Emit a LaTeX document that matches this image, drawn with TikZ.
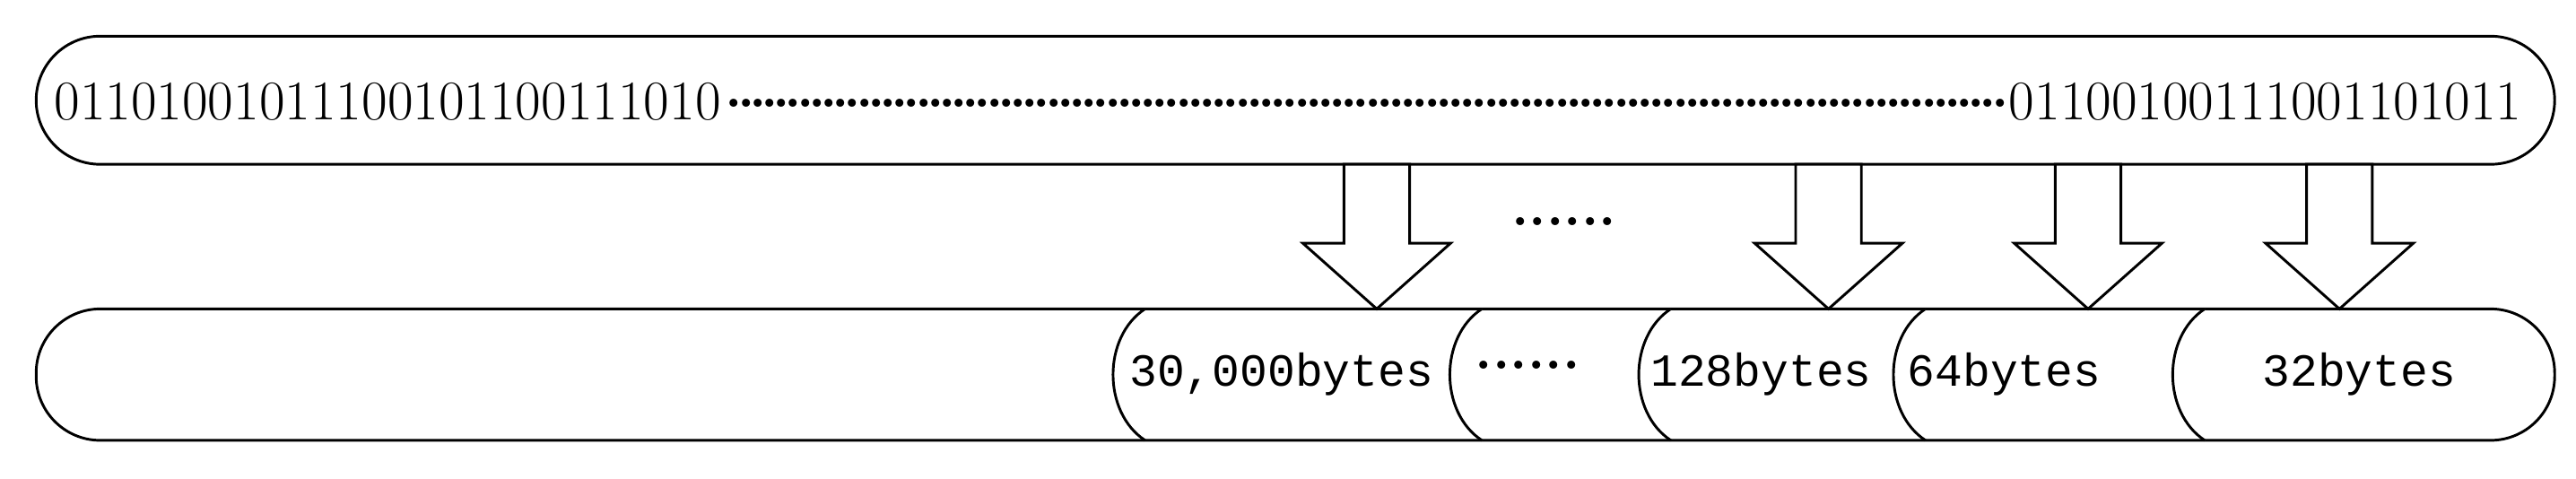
\documentclass[tikz,border=0pt]{standalone}
\usepackage{fontspec}
\newfontfamily\monof{Liberation Mono}
\begin{document}
\begin{tikzpicture}[x=0.5pt,y=-0.5pt,line width=0.8pt,
  bar/.style={draw,rounded corners=19.5pt,inner sep=0pt},
  darrow/.style={draw,fill=white,line join=miter},
  lbl/.style={font=\monof\fontsize{14}{16}\selectfont,inner sep=0pt},
  dots/.style={font=\bfseries\fontsize{17}{20}\selectfont,inner sep=0pt}]
\useasboundingbox (0,0) rectangle (1568,291);
\node[bar,minimum width=766.5pt,minimum height=39pt] (top) at (788.5,61) {};
\node[inner sep=0pt,font=\fontsize{17}{20}\selectfont] (bits) at (784,62)
  {\hbox to 751pt{01101001011100101100111010\leaders\hbox to 3.6pt{\hss\raisebox{0.22em}{\textbf{.}}\hss}\hfill 01100100111001101011}};
\node[bar,minimum width=766.5pt,minimum height=40pt] (bot) at (788.5,228) {};
\foreach \x/\n in {675/s1,880/s2,995/s3,1150/s4,1320/s5}{
  \coordinate (\n) at (\x,228);
  \draw[fill=white] (\x+22,188) .. controls (\x-4,205) and (\x-4,251) .. (\x+22,268);
}
\foreach \c/\n in {838/a1,1113/a2,1271/a3,1424/a4}{
  \coordinate (\n) at (\c,188);
  \draw[darrow] (\c-20,100) -- (\c+20,100) -- (\c+20,148) -- (\c+45,148) -- (\n) -- (\c-45,148) -- (\c-20,148) -- cycle;
}
\node[lbl] (l1) at (780,228) {30,000bytes};
\node[dots] (l2) at (930,222) {......};
\node[lbl] (l3) at (1072,228) {128bytes};
\node[lbl] (l4) at (1220,228) {64bytes};
\node[lbl] (l5) at (1436,228) {32bytes};
\node[dots] (mid) at (952,135) {......};
\end{tikzpicture}
\end{document}
